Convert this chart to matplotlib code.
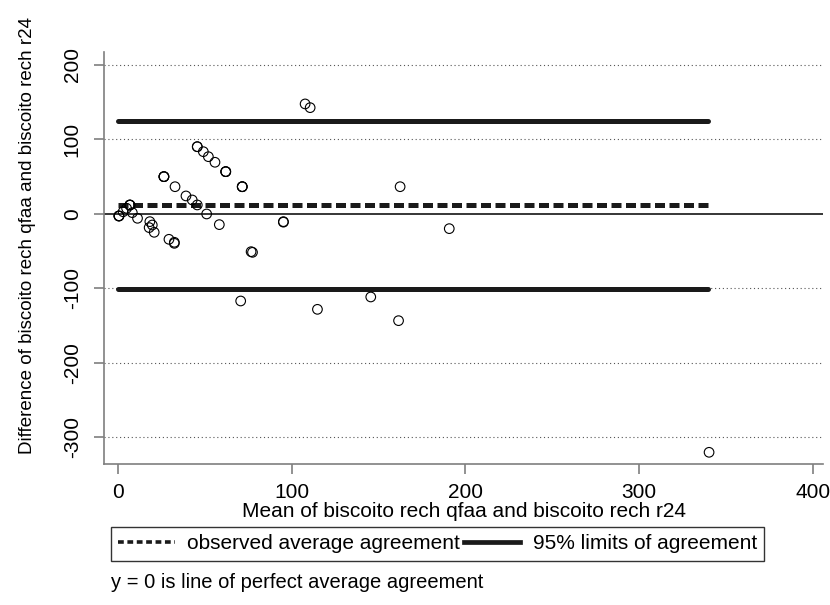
import matplotlib
matplotlib.use("Agg")
import matplotlib.pyplot as plt
from matplotlib.lines import Line2D

plt.rcParams['font.family'] = ['Liberation Sans', 'DejaVu Sans']

# mean of the two methods / difference between them
mean_vals = [0.6, 0.6, 0.6, 3, 5, 6.9, 6.9, 6.9, 8.3, 11.3,
             18.4, 19.8, 18, 20.9, 29.4, 32.5, 32.5, 26.5, 26.5, 26.5,
             32.9, 39.2, 42.8, 45.7, 45.7, 45.7, 49.2, 52.1, 55.9, 62.1,
             62.1, 62.1, 71.6, 71.6, 71.6, 51.1, 58.4, 95.3, 95.3, 76.7,
             77.5, 70.7, 107.8, 110.7, 162.5, 190.8, 145.6, 114.9, 161.6, 340.4]
diff_vals = [-2.7, -2.7, -2.7, 3, 7.6, 12, 12, 12, 1.8, -5.8,
             -10.3, -14.8, -18.3, -24.6, -34, -39.4, -38, 50.1, 50.1, 50.1,
             36.6, 24.2, 18.8, 12.1, 90.3, 90.3, 83.6, 76.9, 69.4, 56.8,
             56.8, 56.8, 36.6, 36.6, 36.6, 0, -14.3, -10.3, -11, -50.6,
             -51.5, -116.8, 147.7, 142.7, 36.6, -19.7, -111.4, -128, -143.2, -319.9]

avg_diff = 12
upper_loa = 125
lower_loa = -101
x_lo, x_hi = 0, 340

y_ticks = [200, 100, 0, -100, -200, -300]
x_ticks = [0, 100, 200, 300, 400]

fig = plt.figure(figsize=(8.3, 6.05), dpi=100)
ax = fig.add_axes([104/830, 1-464/605, (823-104)/830, (464-52)/605])

axis_grey = '#7f7f7f'

# dotted grid lines
for t in y_ticks:
    if t != 0:
        ax.axhline(t, color='#555555', lw=0.8, ls=(0, (1, 2.5)), zorder=1)
ax.axhline(0, color='black', lw=1.1, zorder=2)

ax.plot([x_lo, x_hi], [upper_loa, upper_loa], color='#1a1a1a', lw=3.6,
        solid_capstyle='round', zorder=3)
ax.plot([x_lo, x_hi], [lower_loa, lower_loa], color='#1a1a1a', lw=3.6,
        solid_capstyle='round', zorder=3)
ax.plot([x_lo, x_hi], [avg_diff, avg_diff], color='#1a1a1a', lw=3.6,
        ls=(0, (2.0, 0.9)), zorder=3)

ax.scatter(mean_vals, diff_vals, s=48, facecolors='none', edgecolors='black',
           linewidths=0.8, zorder=4)

ax.set_xlim(-8, 406)
ax.set_ylim(-335.6, 217.4)
ax.set_xticks(x_ticks)
ax.set_yticks(y_ticks)
ax.set_yticklabels([str(t) for t in y_ticks], rotation=90, va='center')
ax.tick_params(axis='both', direction='out', length=7, width=1.2,
               color=axis_grey, labelsize=15, pad=7)
ax.tick_params(axis='y', pad=9)

for s in ['top', 'right']:
    ax.spines[s].set_visible(False)
for s in ['left', 'bottom']:
    ax.spines[s].set_color(axis_grey)
    ax.spines[s].set_linewidth(1.2)

ax.set_xlabel('Mean of biscoito rech qfaa and biscoito rech r24', fontsize=15, labelpad=0)
ax.set_ylabel('Difference of biscoito rech qfaa and biscoito rech r24', fontsize=13.5)
ax.yaxis.set_label_coords(-0.095, 0.555)

handles = [Line2D([], [], color='#1a1a1a', lw=2.6, ls=(0, (1.6, 1.0))),
           Line2D([], [], color='#1a1a1a', lw=3.4)]
leg = fig.legend(handles, ['observed average agreement', '95% limits of agreement'],
                 ncol=2, loc='upper left', bbox_to_anchor=(111/830, 1-527/605),
                 fontsize=15, frameon=True, fancybox=False, edgecolor='black',
                 handlelength=2.7, handletextpad=0.6, columnspacing=0.2,
                 borderpad=0.35, borderaxespad=0)
leg.get_frame().set_linewidth(1.0)

fig.text(111/830, 1-583/605, 'y = 0 is line of perfect average agreement',
         fontsize=14.5, va='center', ha='left')

fig.savefig('out.png', dpi=100)
